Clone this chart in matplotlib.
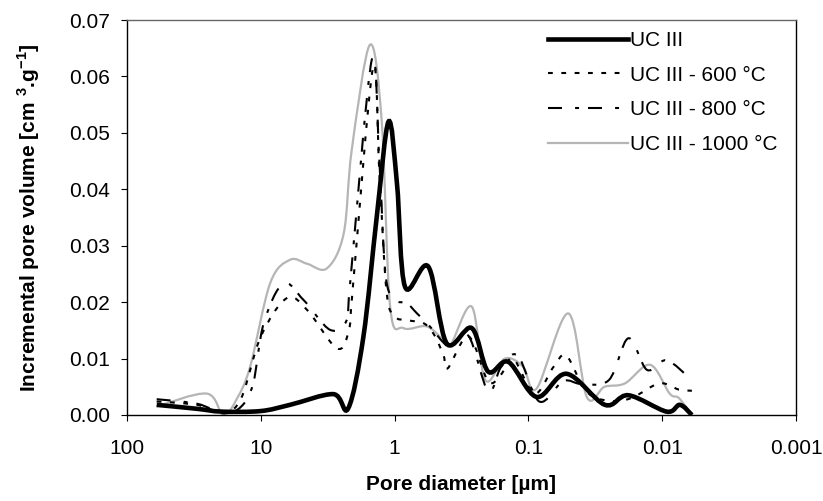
import matplotlib
matplotlib.use('Agg')
import matplotlib.pyplot as plt
import numpy as np
from matplotlib.path import Path
from matplotlib.patches import PathPatch
from matplotlib.lines import Line2D

plt.rcParams['font.family'] = ['Liberation Sans', 'DejaVu Sans']
plt.rcParams['mathtext.fontset'] = 'custom'
plt.rcParams['mathtext.rm'] = 'Liberation Sans:bold'
plt.rcParams['mathtext.bf'] = 'Liberation Sans:bold'

# pore diameter [um] and incremental pore volume [cm3/g]
d_uc = [60, 30, 19.6, 10, 6.05, 2.87, 2.22, 1.71, 1.36, 1.11, 0.96, 0.835, 0.56,
        0.408, 0.265, 0.20, 0.141, 0.0867, 0.0518, 0.0268, 0.0179, 0.00927,
        0.00737, 0.006]
v_uc = [0.0018, 0.0011, 0.0006, 0.0007, 0.0018, 0.0037, 0.0012, 0.0139, 0.0351,
        0.052, 0.041, 0.0227, 0.0263, 0.0127, 0.0154, 0.0077, 0.0094, 0.0032,
        0.0073, 0.0018, 0.0035, 0.0006, 0.0018, 0.0]

d_600 = [60, 30, 19, 14, 10, 6.4, 4.5, 2.7, 2.2, 2.04, 1.45, 1.3, 1.15, 1.0, 0.8,
         0.6, 0.5, 0.43, 0.40, 0.28, 0.20, 0.16, 0.13, 0.09, 0.065, 0.052,
         0.037, 0.025, 0.017, 0.0105, 0.0075, 0.006]
v_600 = [0.0024, 0.0018, 0.0004, 0.003, 0.0139, 0.0207, 0.0186, 0.0118, 0.015,
         0.0233, 0.0615, 0.043, 0.022, 0.0175, 0.0168, 0.0162, 0.014, 0.0105,
         0.0083, 0.0139, 0.006, 0.0072, 0.0100, 0.0038, 0.0085, 0.0105, 0.0042,
         0.0025, 0.003, 0.0056, 0.0045, 0.0043]

d_800 = [60, 30, 19, 14, 11.4, 9.5, 6.8, 4.8, 3.04, 2.28, 2.15, 1.48, 1.3, 1.17,
         1.0, 0.81, 0.68, 0.55, 0.43, 0.38, 0.28, 0.20, 0.16, 0.12, 0.083, 0.055,
         0.04, 0.025, 0.0179, 0.013, 0.0093, 0.0062]
v_800 = [0.0028, 0.002, 0.0003, 0.0015, 0.0056, 0.0163, 0.0233, 0.0204, 0.0151,
         0.0168, 0.0233, 0.063, 0.045, 0.025, 0.0205, 0.0198, 0.018, 0.0158,
         0.0128, 0.0122, 0.014, 0.0042, 0.0085, 0.0105, 0.0024, 0.006, 0.0055,
         0.0062, 0.0136, 0.008, 0.0097, 0.0065]

d_1000 = [60, 25.4, 19, 15, 12, 8.5, 6.05, 4.5, 3.2, 2.4, 2.09, 1.53, 1.25, 1.08,
          0.86, 0.575, 0.432, 0.38, 0.265, 0.21, 0.15, 0.11, 0.0867, 0.0504,
          0.0366, 0.027, 0.019, 0.0123, 0.0088, 0.0075, 0.006]
v_1000 = [0.0015, 0.0038, 0.0, 0.003, 0.0086, 0.0234, 0.0275, 0.0268, 0.026,
          0.0322, 0.047, 0.0656, 0.0523, 0.0192, 0.0154, 0.0157, 0.0133, 0.0125,
          0.0192, 0.0062, 0.010, 0.0086, 0.0047, 0.018, 0.0032, 0.005, 0.0056,
          0.0089, 0.0038, 0.003, 0.0]

labels = ['UC III', 'UC III - 600 °C', 'UC III - 800 °C', 'UC III - 1000 °C']
x_ticks = [100, 10, 1, 0.1, 0.01, 0.001]
x_ticklabels = ['100', '10', '1', '0.1', '0.01', '0.001']
y_ticks = [0.0, 0.01, 0.02, 0.03, 0.04, 0.05, 0.06, 0.07]


def smooth_path(d, v):
    # Excel-like smoothed line: cubic Bezier segments built in log-x space
    pts = np.column_stack([np.log10(d), v])
    n = len(pts)
    verts = [pts[0]]
    codes = [Path.MOVETO]
    for i in range(n - 1):
        p0 = pts[max(i - 1, 0)]
        p1 = pts[i]
        p2 = pts[i + 1]
        p3 = pts[min(i + 2, n - 1)]
        verts += [p1 + (p2 - p0) / 6, p2 - (p3 - p1) / 6, p2]
        codes += [Path.CURVE4] * 3
    verts = np.array(verts)
    verts[:, 0] = 10 ** verts[:, 0]
    return Path(verts, codes)


styles = [
    dict(color='black', lw=3.3, ls='-'),
    dict(color='black', lw=1.5, ls=(0, (2.3, 4.1))),
    dict(color='black', lw=1.5, ls=(0, (6.7, 6.3, 1.9, 4.3))),
    dict(color='#b5b5b5', lw=1.6, ls='-'),
]
series = [(d_uc, v_uc), (d_600, v_600), (d_800, v_800), (d_1000, v_1000)]

fig = plt.figure(figsize=(8.23, 5.01), dpi=100)
ax = fig.add_axes([127 / 823, 1 - 415 / 501, 669 / 823, 395 / 501])
ax.set_xscale('log')
ax.set_xlim(100, 0.001)
ax.set_ylim(0, 0.07)

handles = []
for (d, v), st in zip(series[::-1], styles[::-1]):
    ax.add_patch(PathPatch(smooth_path(d, v), fill=False, edgecolor=st['color'],
                           lw=st['lw'], linestyle=st['ls'], capstyle='butt'))
for st, lab in zip(styles, labels):
    handles.append(Line2D([], [], color=st['color'], lw=st['lw'], ls=st['ls'], label=lab))

ax.set_xticks(x_ticks)
ax.set_xticklabels(x_ticklabels)
ax.xaxis.set_minor_locator(matplotlib.ticker.NullLocator())
ax.set_yticks(y_ticks)
ax.set_yticklabels([f'{t:.2f}' for t in y_ticks])
ax.tick_params(axis='both', direction='out', length=4.5, width=0.8, labelsize=15)
ax.tick_params(axis='x', pad=13)
ax.tick_params(axis='y', pad=8)

for s in ['left', 'bottom', 'right']:
    ax.spines[s].set_color('black')
    ax.spines[s].set_linewidth(1.0)
ax.spines['top'].set_color('#666666')
ax.spines['top'].set_linewidth(1.0)

ax.set_xlabel('Pore diameter [µm]', fontsize=15, fontweight='bold', labelpad=12)
ax.set_ylabel(r'Incremental pore volume [cm $^{3}$.g$^{-1}$]', fontsize=15,
              fontweight='bold', labelpad=19)

ax.legend(handles=handles, loc='upper left', bbox_to_anchor=(548 / 823, 1 - 31 / 501),
          bbox_transform=fig.transFigure, frameon=False, fontsize=15,
          handlelength=3.85, handletextpad=0.1, labelspacing=0.75, borderpad=0,
          borderaxespad=0)

fig.savefig('out.png', dpi=100)
